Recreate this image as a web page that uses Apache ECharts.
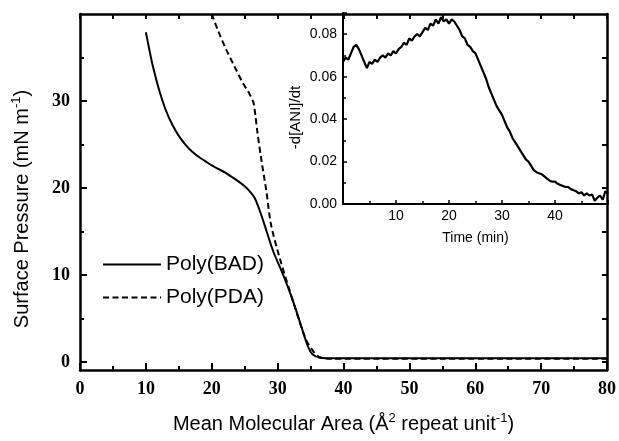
<!DOCTYPE html>
<html>
<head>
<meta charset="utf-8">
<script src="https://cdn.jsdelivr.net/npm/echarts@6/dist/echarts.min.js"></script>
<style>
html,body{margin:0;padding:0;background:#fff;}
#chart{width:619px;height:441px;}
</style>
</head>
<body>
<div id="chart"></div>
<script>
// ---- Main isotherm data (Mean Molecular Area vs Surface Pressure) ----
const areaBAD = [10, 10.5, 11, 11.5, 12, 13, 14, 15, 16, 17, 18, 19, 20, 21, 22, 23, 24, 25, 25.8, 26.5, 27.2, 28, 29.3, 30.8, 32.3, 33.6, 34.6, 35.3, 36.4, 38, 45, 55, 65, 80];
const piBAD   = [37.9, 36.0, 34.2, 32.7, 31.3, 29.0, 27.3, 26.0, 25.0, 24.2, 23.6, 23.1, 22.6, 22.2, 21.8, 21.3, 20.8, 20.2, 19.6, 18.9, 17.6, 15.8, 12.8, 10.1, 7.1, 4.1, 1.8, 0.9, 0.5, 0.45, 0.45, 0.45, 0.45, 0.45];
const areaPDA = [20, 21, 22.2, 23.5, 24.7, 25.6, 26.3, 26.6, 26.9, 27.5, 28.3, 29.0, 30.3, 31.8, 33.1, 34.3, 35.6, 36.4, 38, 45, 55, 65, 80];
const piPDA   = [40, 38.0, 35.9, 33.9, 32.1, 31.0, 29.9, 28.5, 26.6, 23.4, 19.6, 15.8, 12.0, 8.3, 5.2, 2.6, 1.06, 0.57, 0.4, 0.4, 0.4, 0.4, 0.4];

// ---- Inset data (Time vs -d[ANI]/dt) ----
const timeMin = [0,0.5,1,1.5,2,2.5,3,3.5,4,4.5,5,5.5,6,6.5,7,7.5,8,8.5,9,9.5,10,10.5,11,11.5,12,12.5,13,13.5,14,14.5,15,15.5,16,16.5,17,17.5,18,18.5,19,19.5,20,20.5,21,21.5,22,22.5,23,23.5,24,24.5,25,25.5,26,26.5,27,27.5,28,28.5,29,29.5,30,30.5,31,31.5,32,32.5,33,33.5,34,34.5,35,35.5,36,36.5,37,37.5,38,38.5,39,39.5,40,40.5,41,41.5,42,42.5,43,43.5,44,44.5,45,45.5,46,46.5,47,47.5,48,48.5,49,49.5,50];
const rateANI = [0.067,0.069,0.068,0.071,0.074,0.075,0.073,0.070,0.067,0.064,0.067,0.066,0.068,0.067,0.069,0.070,0.069,0.071,0.070,0.072,0.071,0.073,0.074,0.076,0.075,0.078,0.077,0.079,0.080,0.079,0.081,0.083,0.082,0.085,0.084,0.087,0.085,0.088,0.086,0.087,0.085,0.087,0.086,0.084,0.082,0.079,0.078,0.075,0.074,0.072,0.071,0.068,0.065,0.062,0.059,0.055,0.052,0.049,0.046,0.044,0.042,0.039,0.036,0.034,0.031,0.029,0.027,0.025,0.023,0.021,0.020,0.018,0.016,0.015,0.0145,0.014,0.013,0.012,0.011,0.0105,0.0105,0.0095,0.009,0.0085,0.008,0.008,0.007,0.0065,0.006,0.005,0.0055,0.004,0.005,0.004,0.0045,0.0015,0.003,0.004,0.002,0.006,0.005];

// ---- Tick labels ----
const mainYLabels = [0, 10, 20, 30];
const mainYMinor = [5, 15, 25, 35];
const mainYRight = [0, 5, 10, 15, 20, 25, 30, 35];

const zip = (a, b) => a.map((v, i) => [v, b[i]]);

const serif = 'Liberation Serif';
const sans = 'Liberation Sans';
const black = '#000';

const chart = echarts.init(document.getElementById('chart'), null, {renderer: 'canvas'});
chart.setOption({
  animation: false,
  backgroundColor: '#fff',
  grid: [
    {left: 80, right: 11, top: 14, bottom: 67, containLabel: false},
    {left: 343, right: 11, top: 13, bottom: 237, containLabel: false}
  ],
  legend: {
    orient: 'vertical',
    left: 102,
    top: 254,
    padding: 0,
    itemWidth: 58,
    itemHeight: 14,
    itemGap: 12,
    data: ['Poly(BAD)', 'Poly(PDA)'],
    itemStyle: {opacity: 0},
    textStyle: {fontFamily: sans, fontSize: 21, color: black}
  },
  xAxis: [
    {
      gridIndex: 0, type: 'value', position: 'bottom', min: 0, max: 80, interval: 10,
      name: 'Mean Molecular Area (Å{s|2} repeat unit{s|-1})',
      nameLocation: 'middle', nameGap: 42,
      nameTextStyle: {fontFamily: sans, fontSize: 20, color: black, lineHeight: 24,
        rich: {s: {fontFamily: sans, fontSize: 13, color: black, verticalAlign: 'top', lineHeight: 24}}},
      axisLine: {show: true, onZero: false, lineStyle: {color: black, width: 2.5}},
      axisTick: {show: true, inside: true, length: 7, lineStyle: {color: black, width: 2}},
      minorTick: {show: true, splitNumber: 2, length: 4, lineStyle: {color: black, width: 2}},
      axisLabel: {show: true, margin: 10, fontFamily: serif, fontWeight: 'bold', fontSize: 18, color: black},
      splitLine: {show: false}
    },
    {
      gridIndex: 0, type: 'value', position: 'top', min: 0, max: 80, interval: 5,
      axisLine: {show: true, onZero: false, lineStyle: {color: black, width: 2.5}},
      axisTick: {show: true, inside: true, length: 5, lineStyle: {color: black, width: 2}},
      axisLabel: {show: false},
      splitLine: {show: false}
    },
    {
      gridIndex: 1, type: 'value', position: 'bottom', min: 0, max: 50, interval: 10,
      name: 'Time (min)', nameLocation: 'middle', nameGap: 27,
      nameTextStyle: {fontFamily: sans, fontSize: 14, color: black},
      axisLine: {show: true, onZero: false, lineStyle: {color: black, width: 2}},
      axisTick: {show: true, inside: true, length: 4, lineStyle: {color: black, width: 1.5}},
      minorTick: {show: true, splitNumber: 2, length: 3, lineStyle: {color: black, width: 1.5}},
      axisLabel: {show: true, margin: 5, showMinLabel: false, showMaxLabel: false,
        fontFamily: sans, fontSize: 14, color: black},
      splitLine: {show: false}
    }
  ],
  yAxis: [
    {
      gridIndex: 0, type: 'value', position: 'left', min: -0.9, max: 40,
      name: 'Surface Pressure (mN m{s|-1})',
      nameLocation: 'middle', nameGap: 46, nameRotate: 90,
      nameTextStyle: {fontFamily: sans, fontSize: 20, color: black, lineHeight: 24, padding: [0, 34, 0, 0],
        rich: {s: {fontFamily: sans, fontSize: 13, color: black, verticalAlign: 'top', lineHeight: 24}}},
      axisLine: {show: true, onZero: false, lineStyle: {color: black, width: 2.5}},
      axisTick: {show: true, inside: true, length: 7, customValues: mainYLabels, lineStyle: {color: black, width: 2}},
      axisLabel: {show: true, margin: 10, customValues: mainYLabels,
        fontFamily: serif, fontWeight: 'bold', fontSize: 18, color: black},
      splitLine: {show: false}
    },
    {
      gridIndex: 0, type: 'value', position: 'left', min: -0.9, max: 40,
      axisLine: {show: false},
      axisTick: {show: true, inside: true, length: 4, customValues: mainYMinor, lineStyle: {color: black, width: 2}},
      axisLabel: {show: false},
      splitLine: {show: false}
    },
    {
      gridIndex: 0, type: 'value', position: 'right', min: -0.9, max: 40,
      axisLine: {show: true, onZero: false, lineStyle: {color: black, width: 2.5}},
      axisTick: {show: true, inside: true, length: 5, customValues: mainYRight, lineStyle: {color: black, width: 2}},
      axisLabel: {show: false},
      splitLine: {show: false}
    },
    {
      gridIndex: 1, type: 'value', position: 'left', min: 0, max: 0.09, interval: 0.02,
      name: '-d[ANI]/dt', nameLocation: 'middle', nameGap: 40, nameRotate: 90,
      nameTextStyle: {fontFamily: sans, fontSize: 15, color: black, padding: [0, 18, 0, 0]},
      axisLine: {show: true, onZero: false, lineStyle: {color: black, width: 2}},
      axisTick: {show: true, inside: true, length: 4, lineStyle: {color: black, width: 1.5}},
      minorTick: {show: true, splitNumber: 2, length: 3, lineStyle: {color: black, width: 1.5}},
      axisLabel: {show: true, margin: 6, showMaxLabel: false, fontFamily: sans, fontSize: 14, color: black,
        formatter: v => v.toFixed(2)},
      splitLine: {show: false}
    }
  ],
  series: [
    {
      name: 'Poly(BAD)', type: 'line', xAxisIndex: 0, yAxisIndex: 0,
      data: zip(areaBAD, piBAD), smooth: 0.3, symbol: 'none',
      lineStyle: {color: black, width: 2}, itemStyle: {color: black}
    },
    {
      name: 'Poly(PDA)', type: 'line', xAxisIndex: 0, yAxisIndex: 0,
      data: zip(areaPDA, piPDA), smooth: 0.3, symbol: 'none',
      lineStyle: {color: black, width: 2, type: [6, 3.5]}, itemStyle: {color: black}
    },
    {
      name: 'inset', type: 'line', xAxisIndex: 2, yAxisIndex: 3,
      data: zip(timeMin, rateANI), symbol: 'none',
      lineStyle: {color: black, width: 2.2}, itemStyle: {color: black}
    }
  ]
});
</script>
</body>
</html>
